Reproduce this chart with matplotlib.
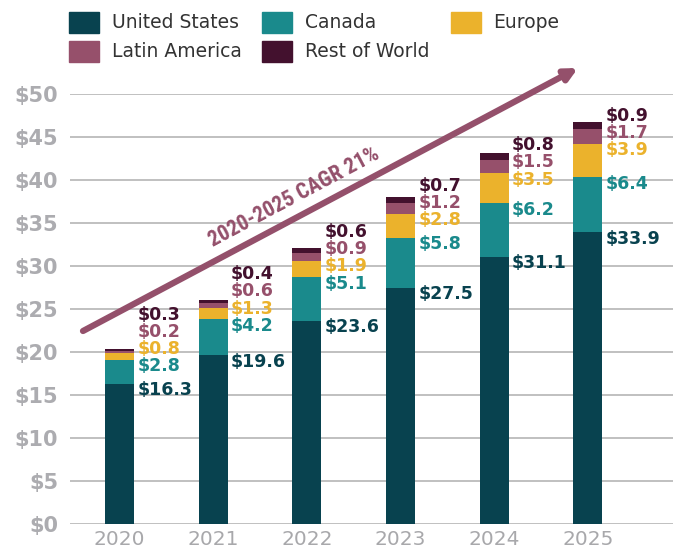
import numpy as np
import matplotlib
matplotlib.use("Agg")
import matplotlib.pyplot as plt
from matplotlib.patches import Rectangle

years = ["2020", "2021", "2022", "2023", "2024", "2025"]
united_states = [16.3, 19.6, 23.6, 27.5, 31.1, 33.9]
canada = [2.8, 4.2, 5.1, 5.8, 6.2, 6.4]
europe = [0.8, 1.3, 1.9, 2.8, 3.5, 3.9]
latin_america = [0.2, 0.6, 0.9, 1.2, 1.5, 1.7]
rest_of_world = [0.3, 0.4, 0.6, 0.7, 0.8, 0.9]

series_names = ["United States", "Canada", "Europe", "Latin America", "Rest of World"]
series_vals = [united_states, canada, europe, latin_america, rest_of_world]
colors = ["#08424f", "#1a8a8c", "#ebb22c", "#96506b", "#43112e"]

yticks = list(range(0, 55, 5))
cagr_text = "2020-2025 CAGR 21%"

W, H = 677, 550
fig = plt.figure(figsize=(W / 100, H / 100), dpi=100)
ax = fig.add_axes([70 / W, (H - 524) / H, (673 - 70) / W, (524 - 94) / H])

x = np.arange(len(years))
bw = 0.31
bottom = np.zeros(len(years))
tops = []
for vals, c in zip(series_vals, colors):
    ax.bar(x, vals, bw, bottom=bottom, color=c, zorder=2)
    bottom = bottom + np.array(vals)
    tops.append(bottom.copy())

# value labels: just under segment top, pushed up when they collide
off = 0.75
gap = 2.0
for i in range(len(years)):
    prev = None
    for k, (vals, c) in enumerate(zip(series_vals, colors)):
        y = tops[k][i] - off
        if prev is not None and y < prev + gap:
            y = prev + gap
        prev = y
        ax.text(x[i] + bw / 2 + 0.035, y, f"${vals[i]}", color=c, fontsize=12.5,
                fontweight="bold", ha="left", va="center", zorder=3)

ax.set_xlim(-0.531, 5.911)
ax.set_ylim(0, 50)
ax.set_yticks(yticks)
ax.set_yticklabels([f"${v}" for v in yticks])
ax.set_xticks(x)
ax.set_xticklabels(years)
ax.tick_params(axis="y", length=0, pad=8.5, labelsize=15, labelcolor="#acacb0")
ax.tick_params(axis="x", length=0, pad=4, labelsize=14.5, labelcolor="#a8a8ab")
for t in ax.get_yticklabels():
    t.set_fontweight("bold")
for s in ax.spines.values():
    s.set_visible(False)
ax.yaxis.grid(True, color="#b5b5b5", lw=1.2)
ax.set_axisbelow(True)

# growth arrow
x0, y0 = 83, H - 331
x1, y1 = 578, H - 68
ax.annotate("", xy=(x1, y1), xytext=(x0, y0), xycoords="figure pixels",
            textcoords="figure pixels", annotation_clip=False,
            arrowprops=dict(arrowstyle="-|>", color="#94506b", lw=4.5,
                            mutation_scale=18, capstyle="round",
                            shrinkA=0, shrinkB=0), zorder=5)
ang = np.degrees(np.arctan2(y1 - y0, x1 - x0))
cagr = fig.text(294 / W, (H - 197) / H, cagr_text, rotation=0, rotation_mode="anchor",
                ha="center", va="center", fontsize=15.5, fontweight="bold",
                fontstyle="normal", color="#94506b",
                family=["Roboto Condensed", "Liberation Sans Narrow", "Roboto", "DejaVu Sans"])
# keep the width close to the reference
fig.canvas.draw()
wpx = cagr.get_window_extent().width
if wpx > 200:
    cagr.set_fontsize(15.5 * 190 / wpx)
cagr.set_rotation(ang)

# legend
legend_pos = [(69, 112, 22.5), (262, 305, 22.5), (451, 493, 22.5),
              (69, 112, 51.5), (262, 305, 51.5)]
for (sx, tx, cy), name, c in zip(legend_pos, series_names, colors):
    fig.add_artist(Rectangle((sx / W, (H - cy - 10.5) / H), 30 / W, 21 / H,
                             transform=fig.transFigure, color=c))
    fig.text(tx / W, (H - cy) / H, name, fontsize=13.5, color="#333333",
             ha="left", va="center")

fig.savefig("out.png", dpi=100)
